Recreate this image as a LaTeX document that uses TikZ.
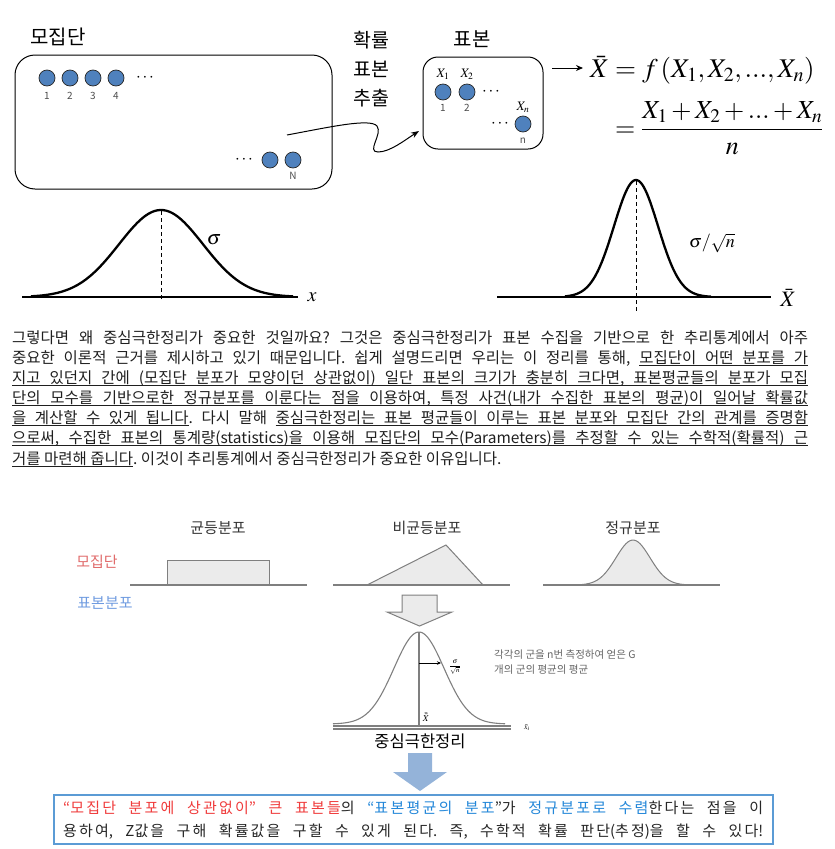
\documentclass[tikz,border=0pt]{standalone}
\usepackage{mathptmx}
\usepackage[no-math]{fontspec}
\setmainfont{Noto Sans CJK KR}
\newfontfamily\boxfont{Noto Sans CJK KR}
\usetikzlibrary{arrows.meta}
\definecolor{dotblue}{HTML}{4F81BD}
\definecolor{popred}{HTML}{E06B6B}
\definecolor{smpblue}{HTML}{6F9BE0}
\definecolor{hired}{HTML}{F03C3C}
\definecolor{hiblue}{HTML}{2387D9}
\definecolor{boxblue}{HTML}{5B9BD5}
\definecolor{arrblue}{HTML}{94B3D9}
\definecolor{shapegray}{HTML}{7F7F7F}
\definecolor{shapefill}{HTML}{EBEBEB}
\frenchspacing
\newcommand\uw[1]{\setbox0\hbox{#1}\rlap{\vrule height -1.7pt depth 2.5pt width \wd0}\box0}
\newcommand\ulsp{\leaders\hrule height -1.7pt depth 2.5pt\hskip\fontdimen2\font plus\fontdimen3\font minus\fontdimen4\font\relax}
\def\ulx#1 #2\ulend{\uw{#1}\ifx\relax#2\relax\else\ulsp\ulx#2\ulend\fi}
\newcommand\ul[1]{\ulx#1 \ulend}
\newXeTeXintercharclass\hangulclass
\count255="AC00
\loop
    \XeTeXcharclass\count255=\hangulclass
    \ifnum\count255<"D7A3 \advance\count255 by 1
\repeat
\XeTeXinterchartoks\hangulclass\hangulclass={\hskip 0pt plus 0.4pt\relax}
\newcommand\spread{\XeTeXinterchartokenstate=1\relax}
\begin{document}
\begin{tikzpicture}[x=1pt,y=-1pt,font=\fontsize{15}{20}\selectfont,
    dot/.style={circle,draw=black!85,fill=dotblue,minimum size=16pt,inner sep=0pt,line width=0.7pt},
    num/.style={text=black!70,font=\fontsize{10}{12}\selectfont,inner sep=0pt},
    xlab/.style={font=\fontsize{13}{15}\selectfont,inner sep=0pt},
    dots/.style={font=\fontsize{17}{20}\selectfont,inner sep=0pt},
    box/.style={draw,line width=1pt},
    bell/.style={line width=2.3pt,line join=round},
    axis/.style={line width=1.1pt},
    para/.style={anchor=base west,inner sep=0pt,text=black!88,font=\fontsize{15.5}{20}\selectfont},
    boxtxt/.style={anchor=base west,inner sep=0pt,text=black!85,font={\boxfont\fontsize{15}{20}\selectfont\spread}},
    ttl/.style={text=black!80,inner sep=0pt},
    shp/.style={draw=shapegray,fill=shapefill,line width=1pt},
    gline/.style={draw=shapegray,line width=1.1pt}]
\useasboundingbox (0,0) rectangle (835,849);

\node[box,minimum width=317pt,minimum height=134pt,rounded corners=20pt] (pop) at (173.5,122) {};
\node[box,minimum width=120pt,minimum height=92pt,rounded corners=15pt] (sbox) at (483,103) {};
\node[font=\fontsize{20}{24}\selectfont] (lpop) at (58,37) {모집단};
\node[font=\fontsize{20}{24}\selectfont] (lsam) at (472,39) {표본};
\node[font=\fontsize{19.5}{29}\selectfont,align=center] (lext) at (371,69) {확률\\표본\\추출};

\foreach \i/\x in {1/47,2/70,3/93,4/116} {
    \node[dot] (d\i) at (\x,78) {};
    \node[num] (n\i) at (\x,96) {\i};
}
\node[dots] (dA) at (145,78) {$\cdots$};
\node[dots] (dB) at (244,160) {$\cdots$};
\node[dot] (d5) at (270,160) {};
\node[dot] (d6) at (293,160) {};
\node[num] (nN) at (293,176) {N};

\foreach \i/\x in {1/443,2/467} {
    \node[dot] (s\i) at (\x,92) {};
    \node[xlab] (x\i) at (\x,74) {$X_\i$};
    \node[num] (m\i) at (\x,108) {\i};
}
\node[dots] (sA) at (491,92) {$\cdots$};
\node[dots] (sB) at (500,124) {$\cdots$};
\node[dot] (sn) at (523,124) {};
\node[xlab] (xn) at (523,107) {$X_n$};
\node[num] (mn) at (523,141) {n};

\coordinate (cs) at (287,135);
\coordinate (ce) at (419,131);
\draw[line width=1pt,-{Stealth[length=8pt,width=6pt]}] (cs) .. controls (330,127) and (370,118) .. (377,126)
    .. controls (383,134) and (366,152) .. (378,152) .. controls (390,152) and (405,140) .. (ce);

\node[anchor=west,inner sep=0pt,font=\fontsize{27}{32}\selectfont] (f1) at (590,70) {$\bar{X} = f\left(X_1, X_2 ,..., X_n\right)$};
\node[anchor=west,inner sep=0pt,font=\fontsize{26}{30}\selectfont] (f2) at (615,128) {$\displaystyle = \frac{X_1 + X_2 + ... + X_n}{n}$};
\coordinate (fs) at (552,68);
\coordinate (fe) at (583,68);
\draw[line width=1pt,-{Stealth[length=7pt,width=6pt]}] (fs) -- (fe);

\draw[axis] (22,297) -- (298,297);
\draw[bell] plot[domain=31:293,samples=90] (\x,{297-87*exp(-((\x-161)/42)^2/2)});
\draw[dashed,dash pattern=on 4pt off 3pt] (161,211) -- (161,301);
\node[font=\fontsize{20}{24}\selectfont] (sig1) at (214,240) {$\sigma$};
\node[font=\fontsize{20}{24}\selectfont] (lx) at (312,297) {$x$};

\draw[axis] (497,297) -- (771,297);
\draw[bell] plot[domain=565:711,samples=90] (\x,{297-117*exp(-((\x-636)/22)^2/2)});
\draw[dashed,dash pattern=on 4pt off 3pt] (636,181) -- (636,312);
\node[font=\fontsize{18}{22}\selectfont] (sig2) at (712,243) {$\sigma/\sqrt{n}$};
\node[font=\fontsize{22}{26}\selectfont] (lX) at (788,298) {$\bar{X}$};

\node[para] (p1) at (12,343) {\makebox[796pt][s]{그렇다면 왜 중심극한정리가 중요한 것일까요? 그것은 중심극한정리가 표본 수집을 기반으로 한 추리통계에서 아주}};
\node[para] (p2) at (12,363) {\makebox[796pt][s]{중요한 이론적 근거를 제시하고 있기 때문입니다. 쉽게 설명드리면 우리는 이 정리를 통해, \ul{모집단이 어떤 분포를 가}}};
\node[para] (p3) at (12,383) {\makebox[796pt][s]{\ul{지고 있던지 간에 (모집단 분포가 모양이던 상관없이) 일단 표본의 크기가 충분히 크다면, 표본평균들의 분포가 모집}}};
\node[para] (p4) at (12,403.5) {\makebox[796pt][s]{\ul{단의 모수를 기반으로한 정규분포를 이룬다는 점을 이용하여, 특정 사건(내가 수집한 표본의 평균)이 일어날 확률값}}};
\node[para] (p5) at (12,423.5) {\makebox[796pt][s]{\ul{을 계산할 수 있게 됩니다}. 다시 말해 \ul{중심극한정리는 표본 평균들이 이루는 표본 분포와 모집단 간의 관계를 증명함}}};
\node[para] (p6) at (12,443.5) {\makebox[796pt][s]{\ul{으로써, 수집한 표본의 통계량(statistics)을 이용해 모집단의 모수(Parameters)를 추정할 수 있는 수학적(확률적) 근}}};
\node[para] (p7) at (12,464) {\ul{거를 마련해 줍니다}. 이것이 추리통계에서 중심극한정리가 중요한 이유입니다.};

\node[ttl] (t1) at (218,528) {균등분포};
\node[ttl] (t2) at (427,528) {비균등분포};
\node[ttl] (t3) at (633,528) {정규분포};
\node[text=popred,inner sep=0pt] (lp) at (97,562) {모집단};
\node[text=smpblue,inner sep=0pt] (ls) at (105,603) {표본분포};

\draw[shp] (167,585) rectangle (269,560);
\draw[shp] (367,585) -- (446,545) -- (483,585) -- cycle;
\draw[shp] plot[domain=573:693,samples=60] (\x,{585-45*exp(-((\x-633)/17)^2/2)}) -- cycle;
\foreach \a/\b in {130/307,333/510,543/720} {
    \draw[gline] (\a,585) -- (\b,585);
}
\draw[shp] (402,595) -- (437,595) -- (437,612) -- (452,612) -- (419.5,626) -- (387,612) -- (402,612) -- cycle;

\draw[gline] plot[domain=333:505,samples=90] (\x,{724-92*exp(-((\x-419)/25)^2/2)});
\draw[gline] (419,632) -- (419,726);
\draw[gline] (333,726) -- (511,726);
\draw[gline] (333,729) -- (511,729);
\coordinate (ma) at (419,663);
\coordinate (mb) at (441,663);
\draw[line width=0.8pt,-{Stealth[length=4pt,width=3.5pt]}] (ma) -- (mb);
\node[font=\fontsize{7}{8}\selectfont,inner sep=0pt] (sg) at (455,667) {$\displaystyle\frac{\sigma}{\sqrt{n}}$};
\node[font=\fontsize{9}{10}\selectfont,inner sep=0pt] (xx) at (426,717) {$\bar{\bar{X}}$};
\node[font=\fontsize{8}{9}\selectfont,inner sep=0pt] (xi) at (527,728) {$\bar{x}_i$};
\node[anchor=west,align=left,text=black!60,font=\fontsize{10.5}{15}\selectfont,inner sep=0pt] (note) at (494,662) {각각의 군을 n번 측정하여 얻은 G\\개의 군의 평균의 평균};
\node[font=\fontsize{16.5}{20}\selectfont,inner sep=0pt] (clt) at (420,741) {중심극한정리};

\fill[arrblue] (408,753) -- (432,753) -- (432,772) -- (447,772) -- (420,791) -- (393,772) -- (408,772) -- cycle;

\node[draw=boxblue,line width=1.3pt,fill=white,minimum width=719pt,minimum height=49pt,inner sep=0pt] (cbox) at (413.5,819.5) {};
\node[boxtxt] (b1) at (63,813.5) {\makebox[700pt][s]{\textcolor{hired}{“모집단 분포에 상관없이” 큰 표본들}의 \textcolor{hiblue}{“표본평균의 분포}”가 \textcolor{hiblue}{정규분포로 수렴}한다는 점을 이}};
\node[boxtxt] (b2) at (63,836.5) {\makebox[700pt][s]{용하여, Z값을 구해 확률값을 구할 수 있게 된다. 즉, 수학적 확률 판단(추정)을 할 수 있다!}};
\end{tikzpicture}
\end{document}
